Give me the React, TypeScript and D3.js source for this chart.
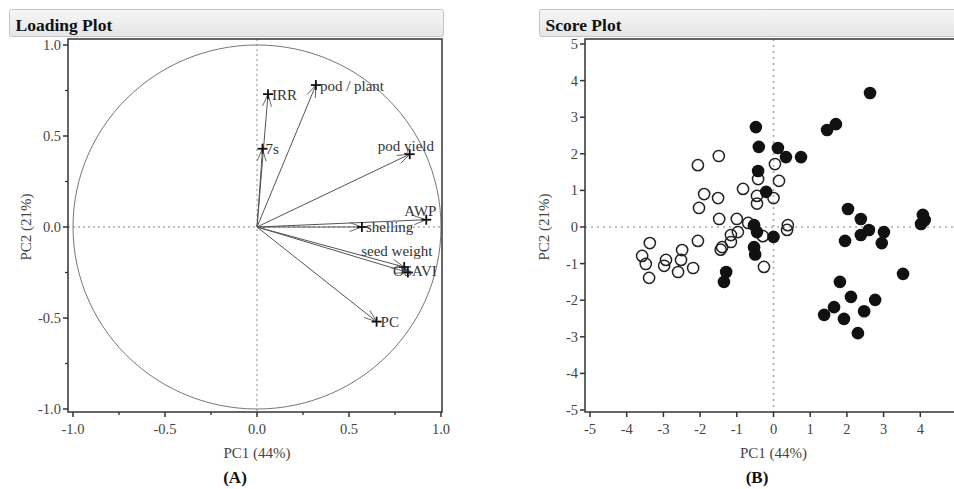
import React from "react";
import * as d3 from "d3";

// ---------- Loading plot data ----------
const loadingLabels = ["IRR", "pod / plant", "7s", "pod yield", "AWP", "shelling", "seed weight", "OSAVI", "PC"];
const loadingPC1 = [0.06, 0.32, 0.03, 0.83, 0.92, 0.57, 0.80, 0.82, 0.65];
const loadingPC2 = [0.73, 0.78, 0.43, 0.40, 0.04, 0.0, -0.22, -0.25, -0.52];
const loadingTicks = [-1.0, -0.5, 0.0, 0.5, 1.0];
const loadingMinorTicks = [-0.75, -0.25, 0.25, 0.75];

// ---------- Score plot data ----------
const openPC1 = [-3.37, -3.58, -3.48, -3.39, -2.93, -2.98, -2.6, -2.52, -2.49, -2.19, -2.06, -2.03, -1.89, -2.06, -1.49, -1.51, -1.48, -1.0, -0.83, 0.04, 0.15, -0.42, -0.45, -0.45, 0.0, -0.69, -0.97, -1.16, -1.16, -1.4, -1.44, -0.29, -0.26, 0.39, 0.37];
const openPC2 = [-0.44, -0.79, -1.01, -1.39, -0.9, -1.06, -1.23, -0.9, -0.63, -1.12, -0.38, 0.52, 0.9, 1.69, 1.94, 0.79, 0.22, 0.22, 1.04, 1.72, 1.26, 1.31, 0.85, 0.64, 0.79, 0.11, -0.14, -0.22, -0.41, -0.55, -0.62, -0.25, -1.09, 0.05, -0.08];
const filledPC1 = [2.63, 1.7, 1.46, -0.48, -0.4, 0.12, 0.34, 0.75, -0.42, -0.2, -0.53, -0.45, 0.0, -0.53, -0.5, -1.29, -1.35, 1.81, 2.11, 1.65, 1.38, 1.92, 2.3, 2.47, 2.77, 3.53, 2.03, 2.38, 2.6, 2.38, 3.01, 1.95, 2.95, 4.07, 4.12, 4.02];
const filledPC2 = [3.66, 2.81, 2.65, 2.73, 2.19, 2.16, 1.91, 1.91, 1.53, 0.96, 0.05, -0.14, -0.27, -0.55, -0.75, -1.23, -1.5, -1.5, -1.91, -2.19, -2.4, -2.51, -2.9, -2.3, -1.99, -1.28, 0.49, 0.22, -0.08, -0.22, -0.14, -0.38, -0.44, 0.33, 0.19, 0.08];
const scoreTicks = [-5, -4, -3, -2, -1, 0, 1, 2, 3, 4, 5];
const scoreXLabels = ["-5", "-4", "-3", "-2", "-1", "0", "1", "2", "3", "4", ""];
const scoreYLabels = ["-5", "-4", "-3", "-2", "-1", "0", "1", "2", "3", "4", "5"];
const loadingTickLabels = ["-1.0", "-0.5", "0.0", "0.5", "1.0"];

// label placement (style only)
const labelOffsets: [number, number][] = [
  [4, 6], [4, 6], [3, 5], [-32, -3], [-22, -4], [4, 5], [-43, -11], [-15, 3], [4, 5],
];

const FONT = "'Liberation Serif', 'DejaVu Serif', serif";
const AXIS_COLOR = "#333";
const TEXT_COLOR = "#444";

function Header({ x, y, w, h, title }: { x: number; y: number; w: number; h: number; title: string }) {
  return (
    <g>
      <rect x={x} y={y} width={w} height={h} rx={2} fill="url(#hdrGrad)" stroke="#c4c4c4" strokeWidth={1} />
      <text x={x + 6} y={y + 21} fontFamily={FONT} fontWeight="bold" fontSize={17.5} fill="#111">
        {title}
      </text>
    </g>
  );
}

export default function App() {
  const lx = d3.scaleLinear().domain([-1, 1]).range([73, 441]);
  const ly = d3.scaleLinear().domain([-1, 1]).range([409, 45]);
  const lFrame = { left: 68, top: 39, right: 442, bottom: 412 };

  const sx = d3.scaleLinear().domain([-5, 5]).range([590, 957]);
  const sy = d3.scaleLinear().domain([-5, 5]).range([410, 44]);
  const sFrame = { left: 585, top: 39, right: 970, bottom: 412 };

  const circlePts = d3.range(0, 361, 3).map((a) => {
    const t = (a * Math.PI) / 180;
    return [Math.cos(t), Math.sin(t)] as [number, number];
  });
  const circlePath = d3
    .line<[number, number]>()
    .x((d) => lx(d[0]))
    .y((d) => ly(d[1]))(circlePts);

  return (
    <svg
      width={954}
      height={489}
      style={{ position: "absolute", left: 0, top: 0, background: "#fff" }}
      xmlns="http://www.w3.org/2000/svg"
    >
      <defs>
        <linearGradient id="hdrGrad" x1="0" y1="0" x2="0" y2="1">
          <stop offset="0" stopColor="#f6f6f6" />
          <stop offset="1" stopColor="#e6e6e6" />
        </linearGradient>
        <clipPath id="sclip">
          <rect x={sFrame.left} y={sFrame.top} width={sFrame.right - sFrame.left} height={sFrame.bottom - sFrame.top} />
        </clipPath>
      </defs>
      <rect x={0} y={0} width={954} height={489} fill="#fff" />

      {/* ================= Loading Plot ================= */}
      <g>
        <line x1={lx(0)} x2={lx(0)} y1={lFrame.top} y2={lFrame.bottom} stroke="#aaa" strokeWidth={1.3} strokeDasharray="2,3" />
        <line x1={lFrame.left} x2={lFrame.right} y1={ly(0)} y2={ly(0)} stroke="#aaa" strokeWidth={1.3} strokeDasharray="2,3" />
        <path d={circlePath || ""} fill="none" stroke="#777" strokeWidth={1} />
        {loadingLabels.map((lab, i) => {
          const x0 = lx(0), y0 = ly(0);
          const x1 = lx(loadingPC1[i]), y1 = ly(loadingPC2[i]);
          const ang = Math.atan2(y1 - y0, x1 - x0);
          const bl = 13;
          const b1 = [x1 - bl * Math.cos(ang - 0.35), y1 - bl * Math.sin(ang - 0.35)];
          const b2 = [x1 - bl * Math.cos(ang + 0.35), y1 - bl * Math.sin(ang + 0.35)];
          const [dx, dy] = labelOffsets[i];
          return (
            <g key={lab}>
              <line x1={x0} y1={y0} x2={x1} y2={y1} stroke="#555" strokeWidth={1} />
              <line x1={x1} y1={y1} x2={b1[0]} y2={b1[1]} stroke="#666" strokeWidth={1} />
              <line x1={x1} y1={y1} x2={b2[0]} y2={b2[1]} stroke="#666" strokeWidth={1} />
              <line x1={x1 - 5} y1={y1} x2={x1 + 5} y2={y1} stroke="#111" strokeWidth={1.8} />
              <line x1={x1} y1={y1 - 5} x2={x1} y2={y1 + 5} stroke="#111" strokeWidth={1.8} />
              <text x={x1 + dx} y={y1 + dy} fontFamily={FONT} fontSize={15} fill="#333">
                {lab}
              </text>
            </g>
          );
        })}
        <rect
          x={lFrame.left}
          y={lFrame.top}
          width={lFrame.right - lFrame.left}
          height={lFrame.bottom - lFrame.top}
          fill="none"
          stroke={AXIS_COLOR}
          strokeWidth={1.5}
        />
        {loadingTicks.map((t, i) => (
          <g key={"lxt" + t}>
            <line x1={lx(t)} x2={lx(t)} y1={lFrame.bottom} y2={lFrame.bottom + 5} stroke={AXIS_COLOR} strokeWidth={1.5} />
            <text x={lx(t)} y={lFrame.bottom + 22} textAnchor="middle" fontFamily={FONT} fontSize={14.5} fill={TEXT_COLOR}>
              {loadingTickLabels[i]}
            </text>
          </g>
        ))}
        {loadingMinorTicks.map((t) => (
          <line key={"lxm" + t} x1={lx(t)} x2={lx(t)} y1={lFrame.bottom} y2={lFrame.bottom + 3} stroke={AXIS_COLOR} strokeWidth={1.3} />
        ))}
        {loadingTicks.map((t, i) => (
          <g key={"lyt" + t}>
            <line x1={lFrame.left - 5} x2={lFrame.left} y1={ly(t)} y2={ly(t)} stroke={AXIS_COLOR} strokeWidth={1.5} />
            <text x={lFrame.left - 7} y={ly(t) + 5} textAnchor="end" fontFamily={FONT} fontSize={14.5} fill={TEXT_COLOR}>
              {loadingTickLabels[i]}
            </text>
          </g>
        ))}
        {loadingMinorTicks.map((t) => (
          <line key={"lym" + t} x1={lFrame.left - 3} x2={lFrame.left} y1={ly(t)} y2={ly(t)} stroke={AXIS_COLOR} strokeWidth={1.3} />
        ))}
        <text x={lx(0)} y={458} textAnchor="middle" fontFamily={FONT} fontSize={15} fill={TEXT_COLOR}>
          PC1 (44%)
        </text>
        <text
          transform={`translate(31, ${ly(0)}) rotate(-90)`}
          textAnchor="middle"
          fontFamily={FONT}
          fontSize={15}
          fill={TEXT_COLOR}
        >
          PC2 (21%)
        </text>
        <text x={235} y={483} textAnchor="middle" fontFamily={FONT} fontSize={17} fontWeight="bold" fill="#111">
          (A)
        </text>
      </g>

      {/* ================= Score Plot ================= */}
      <g>
        <g clipPath="url(#sclip)">
          <line x1={sx(0)} x2={sx(0)} y1={sFrame.top} y2={sFrame.bottom} stroke="#aaa" strokeWidth={1.6} strokeDasharray="2,4" />
          <line x1={sFrame.left} x2={sFrame.right} y1={sy(0)} y2={sy(0)} stroke="#aaa" strokeWidth={1.6} strokeDasharray="2,4" />
          {openPC1.map((v, i) => (
            <circle key={"o" + i} cx={sx(v)} cy={sy(openPC2[i])} r={5.6} fill="none" stroke="#222" strokeWidth={1.5} />
          ))}
          {filledPC1.map((v, i) => (
            <circle key={"f" + i} cx={sx(v)} cy={sy(filledPC2[i])} r={6.3} fill="#111" />
          ))}
        </g>
        <rect
          x={sFrame.left}
          y={sFrame.top}
          width={sFrame.right - sFrame.left}
          height={sFrame.bottom - sFrame.top}
          fill="none"
          stroke={AXIS_COLOR}
          strokeWidth={1.5}
        />
        {scoreTicks.map((t, i) => (
          <g key={"sxt" + t}>
            <line x1={sx(t)} x2={sx(t)} y1={sFrame.bottom} y2={sFrame.bottom + 5} stroke={AXIS_COLOR} strokeWidth={1.5} />
            <text x={sx(t)} y={sFrame.bottom + 22} textAnchor="middle" fontFamily={FONT} fontSize={14.5} fill={TEXT_COLOR}>
              {scoreXLabels[i]}
            </text>
          </g>
        ))}
        {scoreTicks.map((t, i) => (
          <g key={"syt" + t}>
            <line x1={sFrame.left - 5} x2={sFrame.left} y1={sy(t)} y2={sy(t)} stroke={AXIS_COLOR} strokeWidth={1.5} />
            <text x={sFrame.left - 7} y={sy(t) + 5} textAnchor="end" fontFamily={FONT} fontSize={14.5} fill={TEXT_COLOR}>
              {scoreYLabels[i]}
            </text>
          </g>
        ))}
        <text x={sx(0)} y={458} textAnchor="middle" fontFamily={FONT} fontSize={15} fill={TEXT_COLOR}>
          PC1 (44%)
        </text>
        <text
          transform={`translate(549, ${sy(0)}) rotate(-90)`}
          textAnchor="middle"
          fontFamily={FONT}
          fontSize={15}
          fill={TEXT_COLOR}
        >
          PC2 (21%)
        </text>
        <text x={757} y={483} textAnchor="middle" fontFamily={FONT} fontSize={17} fontWeight="bold" fill="#111">
          (B)
        </text>
      </g>

      <Header x={9.5} y={9.5} w={434} h={27} title="Loading Plot" />
      <Header x={539.5} y={9.5} w={430} h={27} title="Score Plot" />
    </svg>
  );
}
